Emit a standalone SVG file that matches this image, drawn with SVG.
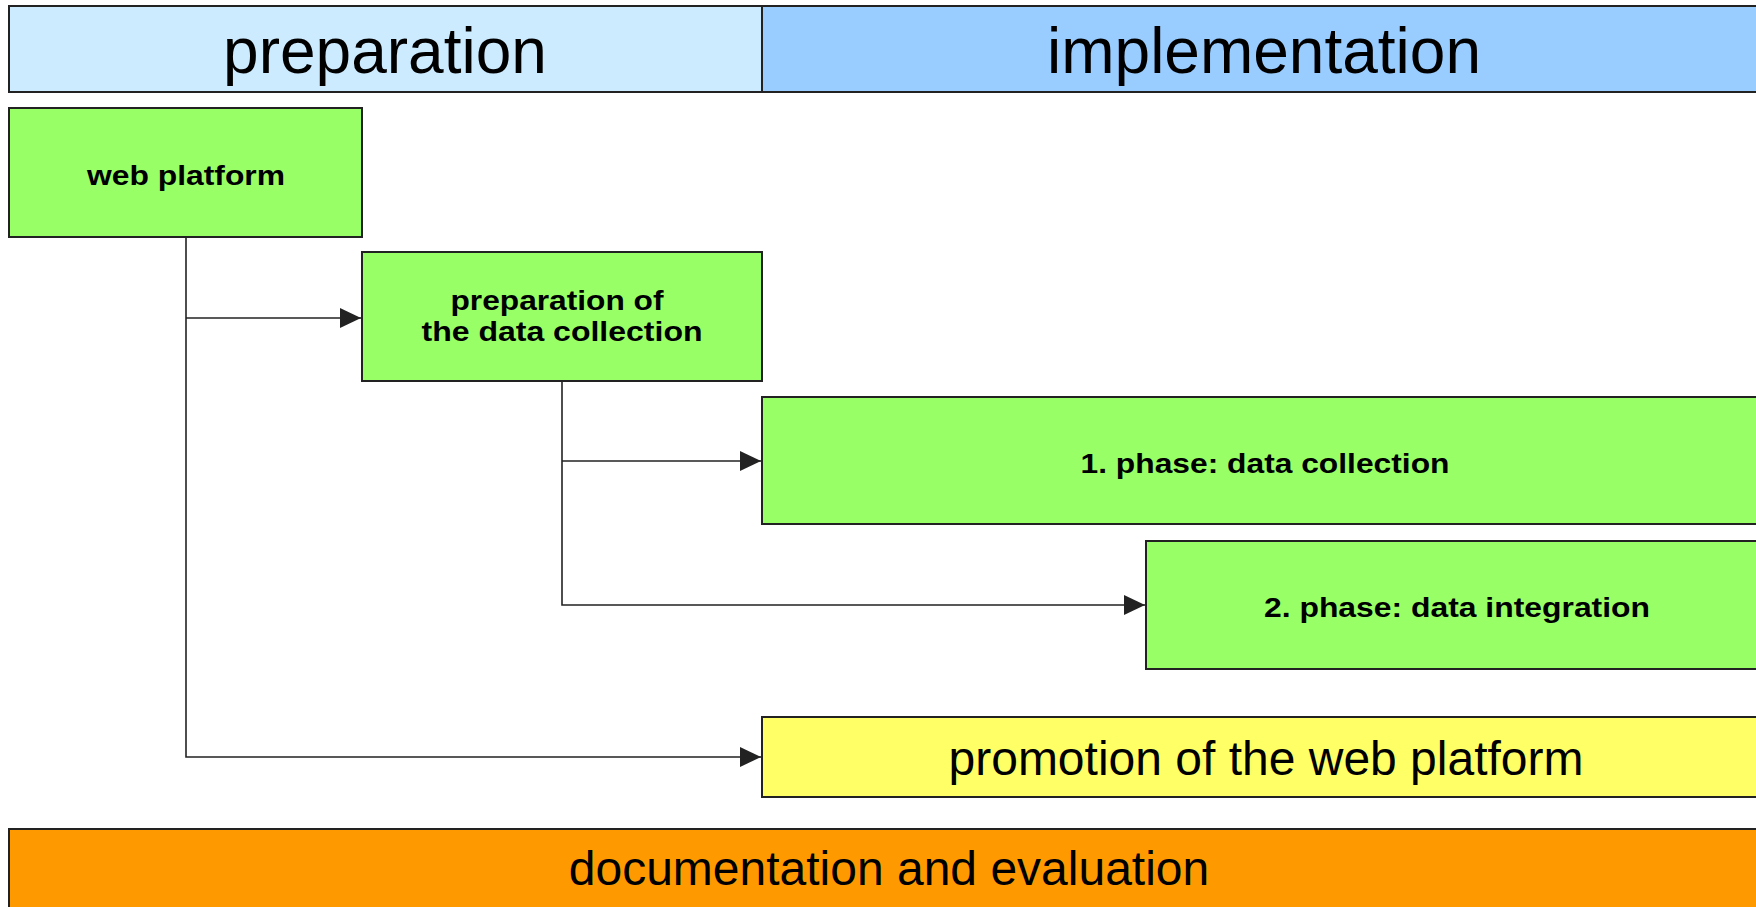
<svg xmlns="http://www.w3.org/2000/svg" width="1756" height="907" viewBox="0 0 1756 907">
<style>
.box{stroke:#222;stroke-width:2}
.green{fill:#99FF66}
.t{font-family:"Liberation Sans",Arial,sans-serif;fill:#000;text-anchor:middle}
.big{font-size:64px}
.mid{font-size:48px}
.b{font-size:28px;font-weight:bold}
.conn{fill:none;stroke:#222;stroke-width:1.6}
</style>
<defs>
<marker id="arr" markerUnits="userSpaceOnUse" markerWidth="22" markerHeight="22" refX="21" refY="10" orient="auto">
<path d="M0,0 L21,10 L0,20 Z" fill="#222"/>
</marker>
</defs>
<rect width="1756" height="907" fill="#fff"/>
<g id="header-preparation">
<rect class="box" x="9" y="6" width="753" height="86" fill="#CCEBFF"/>
<text class="t big" x="385" y="73">preparation</text>
</g>
<g id="header-implementation">
<rect class="box" x="762" y="6" width="1010" height="86" fill="#99CCFF"/>
<text class="t big" x="1264" y="73">implementation</text>
</g>
<g id="connectors">
<path class="conn" d="M186,237 V757 H761" marker-end="url(#arr)"/>
<path class="conn" d="M186,318 H361" marker-end="url(#arr)"/>
<path class="conn" d="M562,381 V605 H1145" marker-end="url(#arr)"/>
<path class="conn" d="M562,461 H761" marker-end="url(#arr)"/>
</g>
<g id="web-platform">
<rect class="box green" x="9" y="108" width="353" height="129"/>
<text class="t b" x="186" y="185" textLength="198" lengthAdjust="spacingAndGlyphs">web platform</text>
</g>
<g id="prep-data-collection">
<rect class="box green" x="362" y="252" width="400" height="129"/>
<text class="t b" x="557" y="310" textLength="213" lengthAdjust="spacingAndGlyphs">preparation of</text>
<text class="t b" x="562" y="341" textLength="281" lengthAdjust="spacingAndGlyphs">the data collection</text>
</g>
<g id="phase1">
<rect class="box green" x="762" y="397" width="1010" height="127"/>
<text class="t b" x="1265" y="473" textLength="369" lengthAdjust="spacingAndGlyphs">1. phase: data collection</text>
</g>
<g id="phase2">
<rect class="box green" x="1146" y="541" width="626" height="128"/>
<text class="t b" x="1457" y="617" textLength="386" lengthAdjust="spacingAndGlyphs">2. phase: data integration</text>
</g>
<g id="promotion">
<rect class="box" x="762" y="717" width="1010" height="80" fill="#FFFF66"/>
<text class="t mid" x="1266" y="775">promotion of the web platform</text>
</g>
<g id="documentation">
<rect class="box" x="9" y="829" width="1763" height="90" fill="#FF9900"/>
<text class="t mid" x="889" y="885">documentation and evaluation</text>
</g>
</svg>
